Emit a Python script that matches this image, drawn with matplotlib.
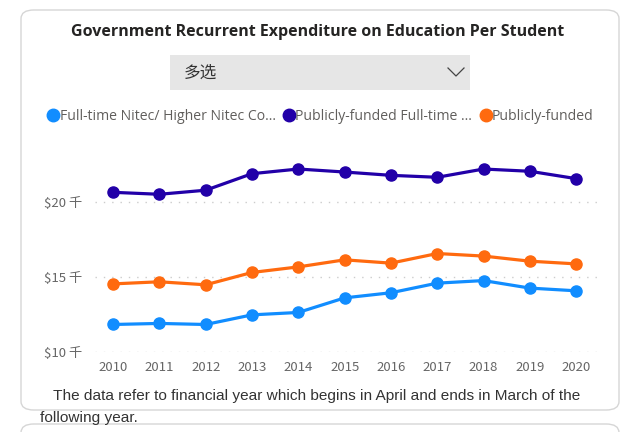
import numpy as np
import matplotlib
matplotlib.use("Agg")
from matplotlib import pyplot as plt
from matplotlib.patches import FancyBboxPatch, Rectangle
from matplotlib.lines import Line2D

years = [2010, 2011, 2012, 2013, 2014, 2015, 2016, 2017, 2018, 2019, 2020]

# values in thousands of dollars
nitec = [11.85, 11.92, 11.85, 12.49, 12.65, 13.62, 13.96, 14.60, 14.77, 14.27, 14.09]
fulltime = [20.64, 20.51, 20.78, 21.88, 22.19, 21.99, 21.77, 21.64, 22.19, 22.04, 21.55]
funded = [14.55, 14.69, 14.49, 15.31, 15.68, 16.15, 15.93, 16.57, 16.40, 16.06, 15.88]

series_names = ["Full-time Nitec/ Higher Nitec Co...",
                "Publicly-funded Full-time ...",
                "Publicly-funded"]
colors = ["#118DFF", "#2200A8", "#FF6A0F"]

yticks = [10, 15, 20]
ytick_labels = ["$10 千", "$15 千", "$20 千"]

cjk = ["Noto Sans CJK SC", "DejaVu Sans"]

W, H = 640, 432
fig = plt.figure(figsize=(6.4, 4.32), dpi=100)

def fx(px):
    return px / W

def fy(py):
    return 1 - py / H

# card outlines (behind everything)
card = FancyBboxPatch((fx(21), fy(410)), fx(598), fy(10) - fy(410),
                      boxstyle="round,pad=0,rounding_size=0.02",
                      transform=fig.transFigure, facecolor="white",
                      edgecolor="#d6d6d6", linewidth=1.0, zorder=-5)
fig.patches.append(card)
card2 = FancyBboxPatch((fx(21), fy(460)), fx(598), fy(424) - fy(460),
                       boxstyle="round,pad=0,rounding_size=0.02",
                       transform=fig.transFigure, facecolor="white",
                       edgecolor="#d6d6d6", linewidth=1.0, zorder=-5)
fig.patches.append(card2)

fig.text(fx(318), fy(32), "Government Recurrent Expenditure on Education Per Student",
         ha="center", va="center", fontsize=11.5, fontweight="bold",
         color="#252423", family="Open Sans")

# slicer dropdown
fig.patches.append(Rectangle((fx(170), fy(90)), fx(300), fy(55) - fy(90),
                             transform=fig.transFigure, facecolor="#e6e6e6",
                             edgecolor="none", zorder=-4))
fig.text(fx(184), fy(73), "多选", ha="left", va="center", fontsize=12,
         color="#333333", family=cjk)
fig.add_artist(Line2D([fx(448), fx(456), fx(464)], [fy(68), fy(76), fy(68)],
                      transform=fig.transFigure, color="#444444", lw=0.9))

ax = fig.add_axes([fx(95), fy(352.3), fx(597) - fx(95), fy(140) - fy(352.3)])
ax.patch.set_alpha(0)
for vals, c, name in zip([nitec, fulltime, funded], colors, series_names):
    ax.plot(years, vals, color=c, lw=2.3, marker="o", markersize=8,
            label=name, zorder=3)

ax.set_xlim(2009.61, 2020.45)
ax.set_ylim(10, 24.12)
ax.set_xticks(years)
ax.set_xticklabels([str(y) for y in years])
ax.set_yticks(yticks)
ax.set_yticklabels(ytick_labels)
for lab in ax.get_xticklabels() + ax.get_yticklabels():
    lab.set_family(cjk)
    lab.set_fontsize(9.5)
    lab.set_color("#666666")
ax.tick_params(length=0, pad=6)
ax.tick_params(axis="y", pad=9)
ax.grid(axis="y", color="#cccccc", linestyle=(0, (1, 5)), lw=1.0)
for s in ax.spines.values():
    s.set_visible(False)

handles = [Line2D([], [], color=c, marker="o", linestyle="none", markersize=9)
           for c in colors]
fig.legend(handles, series_names, loc="center", bbox_to_anchor=(fx(321), fy(116)),
           ncol=3, frameon=False, handlelength=0.7, handletextpad=0.1,
           columnspacing=0.6, prop={"family": "Open Sans", "size": 10.1},
           labelcolor="#605E5C")

fig.text(fx(53), fy(396), "The data refer to financial year which begins in April and ends in March of the",
         ha="left", va="center", fontsize=11.1, color="#333333", family="Liberation Sans")
fig.text(fx(40), fy(418), "following year.",
         ha="left", va="center", fontsize=11.1, color="#333333", family="Liberation Sans")

fig.savefig("out.png", dpi=100)
